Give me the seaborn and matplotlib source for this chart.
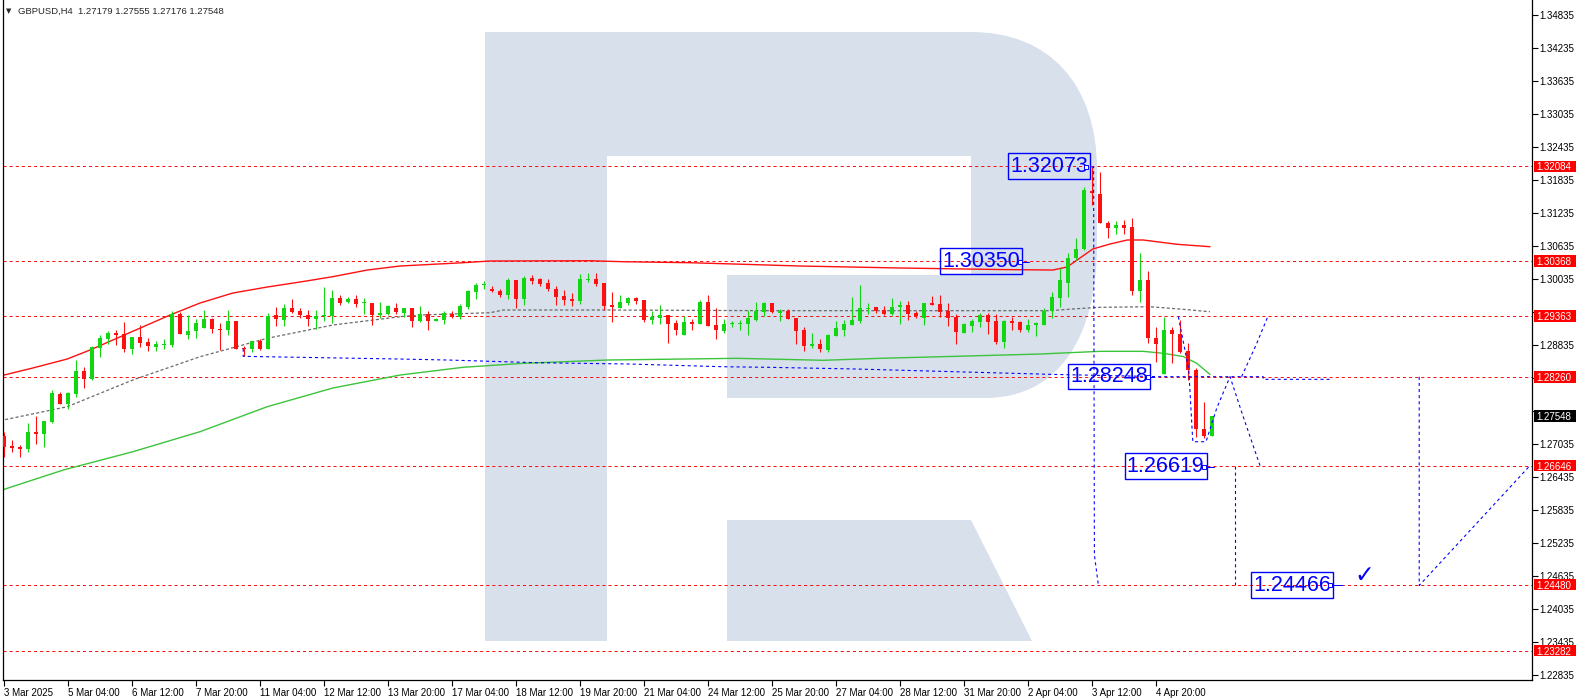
import numpy as np
import matplotlib
matplotlib.use("Agg")
import matplotlib.pyplot as plt
import seaborn as sns
from matplotlib.patches import Rectangle, PathPatch, Polygon
from matplotlib.path import Path
import matplotlib.transforms as mtransforms

# ---------------- data ----------------
symbol = "GBPUSD,H4"
last_ohlc = [1.27179, 1.27555, 1.27176, 1.27548]

opens = [1.27184, 1.27002, 1.26984, 1.26947, 1.27256, 1.27226, 1.27432, 1.27947, 1.27771, 1.27953,
         1.28365, 1.28226, 1.28789, 1.28947, 1.29056, 1.29038, 1.28765, 1.28977, 1.28892, 1.28808,
         1.28844, 1.28844, 1.29402, 1.29026, 1.29086, 1.29153, 1.29311, 1.29129, 1.29105, 1.29274,
         1.28789, 1.28759, 1.28911, 1.28765, 1.29377, 1.29299, 1.29511, 1.29456, 1.29383, 1.29317,
         1.29359, 1.29365, 1.29692, 1.29620, 1.29668, 1.29595, 1.29601, 1.29377, 1.29408, 1.29505,
         1.29426, 1.29510, 1.29274, 1.29401, 1.29280, 1.29298, 1.29401, 1.29353, 1.29535, 1.29807,
         1.29922, 1.29856, 1.29819, 1.29747, 1.30019, 1.29674, 1.30056, 1.30038, 1.29959, 1.29856,
         1.29729, 1.29674, 1.29638, 1.30019, 1.30038, 1.29965, 1.29565, 1.29516, 1.29601, 1.29692,
         1.29656, 1.29298, 1.29335, 1.29383, 1.29238, 1.29026, 1.29256, 1.29226, 1.29619, 1.29201,
         1.29098, 1.29220, 1.29213, 1.29226, 1.29292, 1.29444, 1.29595, 1.29413, 1.29462, 1.29328,
         1.29110, 1.28819, 1.28856, 1.28741, 1.29001, 1.29110, 1.29207, 1.29280, 1.29492, 1.29528,
         1.29468, 1.29407, 1.29522, 1.29571, 1.29419, 1.29334, 1.29601, 1.29583, 1.29456, 1.29347,
         1.29062, 1.29183, 1.29262, 1.29383, 1.29274, 1.28892, 1.29280, 1.29256, 1.29110, 1.29195,
         1.29201, 1.29450, 1.29698, 1.29959, 1.30414, 1.30583, 1.31638, 1.31583, 1.31050, 1.30959,
         1.31013, 1.30983, 1.29826, 1.30020, 1.28971, 1.28311, 1.29111, 1.29038, 1.28729, 1.28383,
         1.27305, 1.27179]
highs = [1.27262, 1.27111, 1.27014, 1.27426, 1.27547, 1.27456, 1.28020, 1.27990, 1.27990, 1.28565,
         1.28444, 1.28814, 1.29020, 1.29092, 1.29105, 1.29256, 1.28977, 1.29202, 1.28959, 1.28911,
         1.28941, 1.29456, 1.29438, 1.29383, 1.29317, 1.29468, 1.29329, 1.29238, 1.29474, 1.29274,
         1.28826, 1.28911, 1.28953, 1.29426, 1.29529, 1.29589, 1.29674, 1.29517, 1.29468, 1.29468,
         1.29892, 1.29838, 1.29747, 1.29717, 1.29747, 1.29686, 1.29601, 1.29620, 1.29565, 1.29595,
         1.29510, 1.29510, 1.29547, 1.29462, 1.29320, 1.29450, 1.29462, 1.29589, 1.29838, 1.29959,
         1.30001, 1.29910, 1.29850, 1.30062, 1.30019, 1.30092, 1.30116, 1.30056, 1.30038, 1.29910,
         1.29838, 1.29783, 1.30129, 1.30141, 1.30141, 1.29965, 1.29801, 1.29753, 1.29710, 1.29710,
         1.29656, 1.29462, 1.29565, 1.29383, 1.29298, 1.29365, 1.29316, 1.29656, 1.29747, 1.29510,
         1.29310, 1.29274, 1.29292, 1.29474, 1.29619, 1.29619, 1.29595, 1.29492, 1.29492, 1.29328,
         1.29159, 1.29050, 1.28947, 1.29037, 1.29274, 1.29292, 1.29704, 1.29928, 1.29595, 1.29528,
         1.29547, 1.29692, 1.29643, 1.29643, 1.29450, 1.29607, 1.29728, 1.29746, 1.29595, 1.29395,
         1.29243, 1.29304, 1.29413, 1.29413, 1.29395, 1.29298, 1.29353, 1.29274, 1.29310, 1.29262,
         1.29504, 1.29801, 1.30232, 1.30504, 1.30777, 1.31704, 1.32073, 1.31989, 1.31092, 1.31092,
         1.31110, 1.31141, 1.30504, 1.30189, 1.29171, 1.29353, 1.29171, 1.29292, 1.28868, 1.28414,
         1.27808, 1.27555]
lows = [1.26808, 1.26887, 1.26796, 1.26887, 1.27044, 1.26990, 1.27414, 1.27765, 1.27680, 1.27893,
        1.28050, 1.28202, 1.28626, 1.28862, 1.28844, 1.28705, 1.28668, 1.28808, 1.28729, 1.28735,
        1.28771, 1.28808, 1.29032, 1.28953, 1.28971, 1.29153, 1.29062, 1.28747, 1.29026, 1.28771,
        1.28632, 1.28717, 1.28741, 1.28765, 1.29189, 1.29189, 1.29426, 1.29323, 1.29189, 1.29129,
        1.29274, 1.29244, 1.29559, 1.29595, 1.29529, 1.29408, 1.29208, 1.29335, 1.29389, 1.29395,
        1.29353, 1.29171, 1.29262, 1.29117, 1.29270, 1.29226, 1.29322, 1.29304, 1.29498, 1.29680,
        1.29850, 1.29807, 1.29710, 1.29680, 1.29516, 1.29565, 1.29947, 1.29910, 1.29826, 1.29565,
        1.29565, 1.29547, 1.29583, 1.29989, 1.29910, 1.29474, 1.29262, 1.29504, 1.29559, 1.29589,
        1.29256, 1.29226, 1.29226, 1.28880, 1.29026, 1.29020, 1.29117, 1.29226, 1.29183, 1.28947,
        1.29062, 1.29171, 1.29117, 1.29026, 1.29274, 1.29365, 1.29413, 1.29280, 1.29304, 1.28856,
        1.28735, 1.28777, 1.28710, 1.28710, 1.29001, 1.29001, 1.29207, 1.29231, 1.29401, 1.29413,
        1.29389, 1.29389, 1.29219, 1.29292, 1.29334, 1.29201, 1.29571, 1.29353, 1.29183, 1.28856,
        1.29050, 1.29080, 1.29171, 1.29031, 1.28856, 1.28789, 1.29110, 1.29074, 1.29068, 1.29001,
        1.29201, 1.29334, 1.29535, 1.29717, 1.30383, 1.30565, 1.31383, 1.31050, 1.30777, 1.30856,
        1.30856, 1.29747, 1.29626, 1.28880, 1.28535, 1.28311, 1.28505, 1.28686, 1.28202, 1.27171,
        1.27141, 1.27176]
closes = [1.26990, 1.26971, 1.26953, 1.27256, 1.27226, 1.27456, 1.27959, 1.27771, 1.27959, 1.28365,
          1.28226, 1.28796, 1.28965, 1.29056, 1.29026, 1.28765, 1.28977, 1.28880, 1.28826, 1.28850,
          1.28850, 1.29395, 1.29032, 1.29092, 1.29238, 1.29311, 1.29123, 1.29105, 1.29274, 1.28771,
          1.28759, 1.28911, 1.28771, 1.29371, 1.29311, 1.29511, 1.29438, 1.29377, 1.29317, 1.29365,
          1.29365, 1.29692, 1.29608, 1.29668, 1.29583, 1.29601, 1.29377, 1.29420, 1.29553, 1.29432,
          1.29510, 1.29280, 1.29401, 1.29280, 1.29310, 1.29413, 1.29353, 1.29547, 1.29826, 1.29935,
          1.29929, 1.29819, 1.29747, 1.30019, 1.29674, 1.30056, 1.29995, 1.29947, 1.29850, 1.29710,
          1.29656, 1.29638, 1.30038, 1.30032, 1.29947, 1.29547, 1.29529, 1.29619, 1.29692, 1.29638,
          1.29292, 1.29347, 1.29389, 1.29226, 1.29110, 1.29256, 1.29226, 1.29619, 1.29189, 1.29117,
          1.29220, 1.29226, 1.29238, 1.29329, 1.29456, 1.29601, 1.29444, 1.29462, 1.29316, 1.29098,
          1.28819, 1.28856, 1.28771, 1.29019, 1.29153, 1.29219, 1.29292, 1.29510, 1.29510, 1.29450,
          1.29407, 1.29528, 1.29571, 1.29407, 1.29371, 1.29595, 1.29571, 1.29431, 1.29334, 1.29080,
          1.29219, 1.29280, 1.29377, 1.29256, 1.28892, 1.29274, 1.29243, 1.29110, 1.29201, 1.29231,
          1.29456, 1.29710, 1.30020, 1.30414, 1.30583, 1.31656, 1.31595, 1.31050, 1.30971, 1.31013,
          1.30971, 1.29826, 1.30020, 1.28959, 1.28850, 1.29111, 1.29032, 1.28717, 1.28383, 1.27305,
          1.27185, 1.27548]

date_tick_bars = [0, 8, 16, 24, 32, 40, 48, 56, 64, 72, 80, 88, 96, 104, 112, 120, 128, 136, 144]
date_tick_labels = ["3 Mar 2025", "5 Mar 04:00", "6 Mar 12:00", "7 Mar 20:00", "11 Mar 04:00",
                    "12 Mar 12:00", "13 Mar 20:00", "17 Mar 04:00", "18 Mar 12:00", "19 Mar 20:00",
                    "21 Mar 04:00", "24 Mar 12:00", "25 Mar 20:00", "27 Mar 04:00", "28 Mar 12:00",
                    "31 Mar 20:00", "2 Apr 04:00", "3 Apr 12:00", "4 Apr 20:00"]

price_ticks = [1.34835, 1.34235, 1.33635, 1.33035, 1.32435, 1.31835, 1.31235, 1.30635, 1.30035,
               1.29435, 1.28835, 1.28235, 1.27635, 1.27035, 1.26435, 1.25835, 1.25235, 1.24635,
               1.24035, 1.23435, 1.22835]

level_prices = [1.32084, 1.30368, 1.29363, 1.28260, 1.26646, 1.24480, 1.23282]
current_price = 1.27548

# moving averages (bar position, price)
ma_red_x = [-0.5, 3.6, 7.9, 10.75, 20.75, 24.5, 28.6, 32.9, 37, 41.1, 45.4, 49.5, 57.4, 60.75,
            73.25, 77.4, 85.75, 94.1, 99.5, 112, 124.5, 131.1, 132.9, 134.5, 136.1, 138.25,
            140.4, 142.4, 146.6, 150.75]
ma_red_y = [1.28274, 1.28420, 1.28583, 1.28747, 1.29383, 1.29601, 1.29783, 1.29892, 1.29983,
            1.30080, 1.30201, 1.30274, 1.30334, 1.30365, 1.30370, 1.30352, 1.30334, 1.30298,
            1.30274, 1.30238, 1.30210, 1.30201, 1.30256, 1.30420, 1.30583, 1.30674, 1.30747,
            1.30747, 1.30669, 1.30625]
ma_green_x = [-0.5, 7.4, 16.1, 24.5, 32.9, 41.1, 49.5, 57.4, 64.9, 75.4, 91.6, 102.4, 109.5,
              120.4, 129.5, 137, 142.4, 144.9, 147.4, 149.1, 150.75]
ma_green_y = [1.26190, 1.26565, 1.26898, 1.27262, 1.27716, 1.28056, 1.28292, 1.28433, 1.28505,
              1.28565, 1.28596, 1.28560, 1.28596, 1.28638, 1.28674, 1.28723, 1.28723, 1.28687,
              1.28629, 1.28505, 1.28302]
ma_gray_x = [-0.5, 7.9, 16.1, 24.5, 32.9, 41.1, 49.5, 52, 60.75, 62.4, 75.4, 95.75, 130.75,
             134.1, 137, 143.25, 147.4, 150.75]
ma_gray_y = [1.27462, 1.27716, 1.28202, 1.28625, 1.28960, 1.29201, 1.29352, 1.29383, 1.29425,
             1.29474, 1.29474, 1.29462, 1.29462, 1.29498, 1.29523, 1.29534, 1.29487, 1.29443]

# analyst drawings (bar position, price)
trend_x = [29.9, 29.9, 49.5, 55.5, 66.6, 78.25, 89.9, 95.75, 106.4, 130.75, 144.5, 157.4, 157.4, 166.1]
trend_y = [1.28771, 1.28632, 1.28583, 1.28565, 1.28516, 1.28492, 1.28443, 1.28432, 1.28402,
           1.28305, 1.28262, 1.28262, 1.28214, 1.28214]
drop_x = [135.2, 136.2, 136.3, 136.8]
drop_y = [1.32073, 1.32073, 1.25020, 1.24466]
path1_x = [146.8, 148.1, 148.6, 150.25, 151.6, 153.25, 154.9, 157.0]
path1_y = [1.29352, 1.28384, 1.27080, 1.27080, 1.27693, 1.28262, 1.27535, 1.26646]
path2_x = [154.7, 156.6, 158.0]
path2_y = [1.28262, 1.28869, 1.29363]
path3_x = [153.9, 153.9]
path3_y = [1.26646, 1.24466]
path4_x = [176.9, 176.9, 190.75]
path4_y = [1.28260, 1.24466, 1.26646]

label_texts = ["1.32073", "1.30350", "1.28248", "1.26619", "1.24466"]
label_bar = [130.6, 122.1, 138.1, 145.2, 161.0]
label_price = [1.32092, 1.30365, 1.28266, 1.26638, 1.24475]
label_tail_x0 = [135.2, 127.0, 143.0, 150.0, 165.8]
label_tail_x1 = [135.2, 128.1, 143.7, 151.2, 167.2]
label_tail_y = [1.32073, 1.30350, 1.28248, 1.26619, 1.24466]

# ---------------- style ----------------
sns.set_theme(style="white")
plt.rcParams['font.family'] = ['Liberation Sans', 'DejaVu Sans']
plt.rcParams['lines.scale_dashes'] = False

W, H = 1578, 698
PX = 0.72  # one pixel in points at dpi 100
RED = '#ff1010'
GREEN = '#12d612'
BLUE = '#0000ff'
WM = '#d7e0eb'
FS = 7.0

fig = plt.figure(figsize=(W / 100, H / 100), dpi=100)
fig.patch.set_facecolor('white')

# watermark "R" in figure pixel space
bg = fig.add_axes([0, 0, 1, 1], zorder=0)
bg.set_xlim(0, W)
bg.set_ylim(H, 0)
bg.axis('off')
bg.add_patch(Rectangle((485, 32), 122, 609, fc=WM, lw=0))
verts = [(607, 32), (971, 32), (1050, 32), (1097, 85), (1097, 170), (1097, 245),
         (1097, 335), (1060, 398), (985, 398), (727, 398), (727, 275), (971, 275),
         (971, 156), (607, 156), (607, 32)]
codes = [Path.MOVETO, Path.LINETO, Path.CURVE4, Path.CURVE4, Path.CURVE4, Path.LINETO,
         Path.CURVE4, Path.CURVE4, Path.CURVE4, Path.LINETO, Path.LINETO, Path.LINETO,
         Path.LINETO, Path.LINETO, Path.CLOSEPOLY]
bg.add_patch(PathPatch(Path(verts, codes), fc=WM, lw=0))
bg.add_patch(Polygon([(727, 520), (971, 520), (1032, 641), (727, 641)], closed=True, fc=WM, lw=0))

# main price axes
ax = fig.add_axes([3 / W, 18 / H, 1529 / W, 680 / H], zorder=1)
ax.set_facecolor('none')
ax.set_xlim(-0.125, 191)
ax.set_ylim(1.22748, 1.35110)

# horizontal levels
for p in level_prices:
    ax.axhline(p, color=RED, lw=PX, ls=(0, (2.2, 2.2)), zorder=1)

# moving averages
sns.lineplot(x=ma_green_x, y=ma_green_y, ax=ax, color='#3cc43c', lw=1.0, estimator=None,
             sort=False, zorder=2)
sns.lineplot(x=ma_red_x, y=ma_red_y, ax=ax, color=RED, lw=1.0, estimator=None,
             sort=False, zorder=2)
sns.lineplot(x=ma_gray_x, y=ma_gray_y, ax=ax, color='#6a6a6a', lw=0.9, estimator=None,
             sort=False, zorder=2, linestyle=(0, (2.2, 1.6)))

# candles
o = np.array(opens); h = np.array(highs); l = np.array(lows); c = np.array(closes)
idx = np.arange(len(o))
cols = np.where(c >= o, GREEN, RED)
ax.vlines(idx, l, h, colors=cols, lw=PX * 1.1, zorder=3)
body_low = np.minimum(o, c)
body_h = np.maximum(np.abs(c - o), 0.00019)
ax.bar(idx, body_h, bottom=body_low, width=0.6, color=cols, lw=0, zorder=3.2)

# analyst drawings
dash = (0, (2.2, 2.2))
for xs, ys in [(trend_x, trend_y), (drop_x, drop_y), (path1_x, path1_y), (path2_x, path2_y),
               (path3_x, path3_y), (path4_x, path4_y)]:
    ax.plot(xs, ys, color=BLUE, lw=PX * 1.1, ls=dash, zorder=4)

for t, xb, yb, x0, x1, yt in zip(label_texts, label_bar, label_price, label_tail_x0,
                                 label_tail_x1, label_tail_y):
    ax.text(xb, yb, t, fontsize=15.5, color=BLUE, ha='center', va='center',
            bbox=dict(boxstyle='square,pad=0.1', fc='none', ec=BLUE, lw=1.0), zorder=5)
    ax.plot([x0, x1], [yt, yt], color=BLUE, lw=PX, zorder=5)
    ax.plot([x0], [yt], marker='s', ms=2.5, mfc='white', mec=BLUE, mew=0.7, zorder=5)

ax.text(170, 1.2465, "\u2713", fontsize=17, fontweight='bold', color=BLUE, ha='center',
        va='center', family='DejaVu Sans', zorder=5)

# axes styling
ax.spines['top'].set_visible(False)
for side in ['left', 'right', 'bottom']:
    ax.spines[side].set_visible(True)
    ax.spines[side].set_color('black')
    ax.spines[side].set_linewidth(0.9)

hidden = {1.29435, 1.27635}  # covered by the coloured price boxes
ax.yaxis.tick_right()
ax.set_yticks(price_ticks)
ax.set_yticklabels(["" if v in hidden else f"{v:.5f}" for v in price_ticks])
ax.tick_params(axis='y', which='both', right=True, left=False, direction='out', length=4,
               width=0.8, pad=1, labelsize=FS, colors='black')
ax.set_xticks(date_tick_bars)
ax.set_xticklabels(date_tick_labels, ha='left')
ax.tick_params(axis='x', which='both', bottom=True, direction='out', length=4, width=0.8,
               pad=1.5, labelsize=FS, colors='black')
ax.grid(False)

# price boxes on right scale
trans = mtransforms.blended_transform_factory(ax.transAxes, ax.transData)
box_x0 = (1534 - 3) / 1529
box_w = 42 / 1529
box_h = 11.5 * 0.0001818
txt_x = (1536.5 - 3) / 1529
for p, fc in [(v, '#ff0000') for v in level_prices] + [(current_price, 'black')]:
    ax.add_patch(Rectangle((box_x0, p - box_h / 2), box_w, box_h, transform=trans, fc=fc,
                           ec='none', clip_on=False, zorder=6))
    ax.text(txt_x, p, f"{p:.5f}", transform=trans, color='white', fontsize=FS, ha='left',
            va='center_baseline', clip_on=False, zorder=7)

# header
fig.text(6 / W, 1 - 11 / H, "\u25bc", fontsize=5, va='center', ha='left', family='DejaVu Sans')
fig.text(18 / W, 1 - 11 / H,
         symbol + "  " + " ".join(f"{v:.5f}" for v in last_ohlc),
         fontsize=6.8, va='center', ha='left')

fig.savefig("out.png", dpi=100)
